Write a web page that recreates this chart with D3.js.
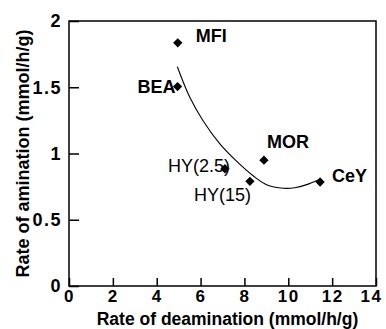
<!DOCTYPE html>
<html>
<head>
<meta charset="utf-8">
<script src="https://cdn.jsdelivr.net/npm/d3@7"></script>
<style>
  body { margin: 0; background: #fff; }
  text { font-family: "Liberation Sans", Arial, sans-serif; fill: #000; }
</style>
</head>
<body>
<div id="chart"></div>
<script>
// catalysts
var names = ["MFI", "BEA", "HY(2.5)", "HY(15)", "MOR", "CeY"];
var deamination = [4.96, 4.95, 7.11, 8.25, 8.89, 11.45];
var amination = [1.835, 1.505, 0.885, 0.79, 0.95, 0.785];

// fitted curve
var curveX = [4.94, 5.52, 6.12, 6.89, 7.65, 8.41, 9.01, 9.77, 10.3, 10.84, 11.37];
var curveY = [1.655, 1.42, 1.245, 1.07, 0.94, 0.83, 0.765, 0.738, 0.742, 0.765, 0.80];

var xTicks = [0, 2, 4, 6, 8, 10, 12, 14];
var yTicks = [0, 0.5, 1, 1.5, 2];
var yTickLabels = ["0", "0.5", "1", "1.5", "2"];

var width = 386, height = 329;
var margin = {left: 69, right: 10, top: 21, bottom: 43};

var svg = d3.select("#chart").append("svg")
    .attr("width", width)
    .attr("height", height);

var x = d3.scaleLinear().domain([0, 14]).range([margin.left, width - margin.right]);
var y = d3.scaleLinear().domain([0, 2]).range([height - margin.bottom, margin.top]);

// frame
svg.append("rect")
    .attr("x", x(0)).attr("y", y(2))
    .attr("width", x(14) - x(0)).attr("height", y(0) - y(2))
    .attr("fill", "none").attr("stroke", "#000").attr("stroke-width", 1.5);

var xAxis = svg.append("g")
    .attr("transform", "translate(0," + y(0) + ")")
    .call(d3.axisBottom(x).tickValues(xTicks).tickSizeInner(-8).tickSizeOuter(0).tickPadding(4));
xAxis.select(".domain").remove();
xAxis.selectAll("line").attr("stroke-width", 1.5);
xAxis.selectAll("text")
    .style("font-size", "17px").style("font-weight", "bold").style("letter-spacing", "1.5px")
    .attr("dx", function(d){ return d === 14 ? -5 : 0; });

var yAxis = svg.append("g")
    .attr("transform", "translate(" + x(0) + ",0)")
    .call(d3.axisLeft(y).tickValues(yTicks).tickFormat(function(d, i){ return yTickLabels[i]; })
        .tickSizeInner(-10).tickSizeOuter(0).tickPadding(7));
yAxis.select(".domain").remove();
yAxis.selectAll("line").attr("stroke-width", 1.5);
yAxis.selectAll("text")
    .style("font-size", "18px").style("font-weight", "bold").style("letter-spacing", "1.5px");

// axis titles
svg.append("text")
    .attr("x", (x(0) + x(14)) / 2 + 5).attr("y", 325)
    .attr("text-anchor", "middle")
    .style("font-size", "17.5px").style("font-weight", "bold")
    .text("Rate of deamination (mmol/h/g)");

svg.append("text")
    .attr("transform", "translate(29," + ((y(0) + y(2)) / 2) + ") rotate(-90)")
    .attr("text-anchor", "middle")
    .style("font-size", "18px").style("font-weight", "bold")
    .text("Rate of amination (mmol/h/g)");

// curve
var line = d3.line()
    .x(function(d){ return x(d[0]); })
    .y(function(d){ return y(d[1]); })
    .curve(d3.curveCatmullRom);

svg.append("path")
    .datum(d3.zip(curveX, curveY))
    .attr("d", line)
    .attr("fill", "none").attr("stroke", "#000").attr("stroke-width", 1.1);

// points
var pts = d3.zip(deamination, amination);
svg.selectAll(".pt").data(pts).enter().append("path")
    .attr("class", "pt")
    .attr("d", d3.symbol().type(d3.symbolDiamond2).size(55))
    .attr("transform", function(d){ return "translate(" + x(d[0]) + "," + y(d[1]) + ")"; })
    .attr("fill", "#000");

// labels
var labelDx = [18, -40, -57, -56, 3, 12];
var labelDy = [-7, 0, -3, 13, -18, -6];
var labelWeight = ["bold", "bold", "normal", "normal", "bold", "bold"];
svg.selectAll(".lbl").data(names).enter().append("text")
    .attr("class", "lbl")
    .attr("x", function(d, i){ return x(deamination[i]) + labelDx[i]; })
    .attr("y", function(d, i){ return y(amination[i]) + labelDy[i]; })
    .attr("dy", "0.35em")
    .style("font-size", "18px")
    .style("font-weight", function(d, i){ return labelWeight[i]; })
    .text(function(d){ return d; });
</script>
</body>
</html>
